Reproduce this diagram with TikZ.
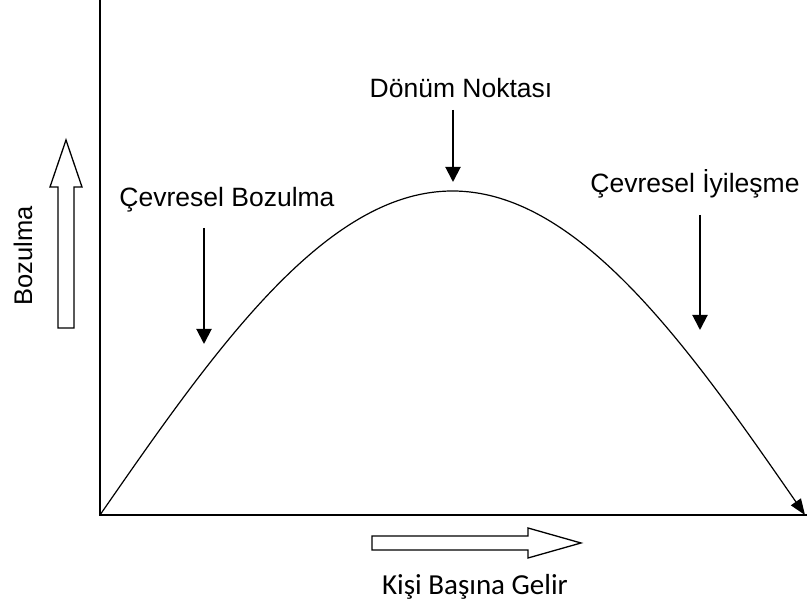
\documentclass[tikz,border=0pt]{standalone}
\usepackage{fontspec}
\setmainfont{Liberation Sans}
\newfontfamily\calibrifont{Carlito}
\usepackage{tikz}
\usetikzlibrary{arrows.meta, calc, positioning}

\tikzset{
	axisline/.style={line width=1.5pt},
	curveline/.style={line width=1.2pt, -{Triangle[length=16pt,width=12pt]}},
	pointer/.style={line width=2pt, -{Triangle[length=15pt,width=15pt]}},
	hollow/.style={line width=1.3pt, fill=white, line join=miter},
	lbl/.style={font=\fontsize{26.5}{30}\selectfont, inner sep=0pt, anchor=base},
}

\begin{document}
\begin{tikzpicture}[x=1pt, y=1pt]
	\useasboundingbox (0,0) rectangle (807,609);
	\pgfmathsetmacro{\ox}{100}
	\pgfmathsetmacro{\oy}{94}
	\pgfmathsetmacro{\cw}{705}
	\pgfmathsetmacro{\ch}{324}
	\coordinate (O) at (\ox,\oy);
	\coordinate (ytop) at (\ox,609);
	\coordinate (xend) at (807,\oy);
	\draw[axisline] (ytop) -- (O) -- (xend);

	% half sine wave, two bezier pieces
	\coordinate (peak) at (\ox+\cw/2,\oy+\ch);
	\coordinate (far) at (\ox+\cw,\oy);
	\draw[curveline] (O) .. controls (\ox+114.9,\oy+165.9) and (\ox+225.5,\oy+\ch) .. (peak)
		.. controls (\ox+479.5,\oy+\ch) and (\ox+590.1,\oy+165.9) .. (far);

	% hollow arrows along the axes
	\draw[hollow] (58,281) -- ++(0,141) -- ++(-8,0) -- ++(16,47) -- ++(16,-47) -- ++(-8,0) -- ++(0,-141) -- cycle;
	\draw[hollow] (372,59) -- ++(156,0) -- ++(0,-8) -- ++(53,15) -- ++(-53,15) -- ++(0,-8) -- ++(-156,0) -- cycle;
	\node[lbl, font=\fontsize{25.5}{30}\selectfont, rotate=90] (yLbl) at (32,353) {Bozulma};
	\node[lbl, font=\calibrifont\fontsize{29}{34}\selectfont] (xLbl) at (475,14) {Kişi Başına Gelir};

	% labels with pointers
	\node[lbl] (bozLbl) at (227,402) {Çevresel Bozulma};
	\coordinate (boz1) at (204,381);
	\coordinate (boz2) at (204,265);
	\draw[pointer] (boz1) -- (boz2);

	\node[lbl] (donLbl) at (461,511) {Dönüm Noktası};
	\coordinate (don1) at (453,499);
	\coordinate (don2) at (453,427);
	\draw[pointer] (don1) -- (don2);

	\node[lbl] (iyiLbl) at (695,416) {Çevresel İyileşme};
	\coordinate (iyi1) at (700,394);
	\coordinate (iyi2) at (700,279);
	\draw[pointer] (iyi1) -- (iyi2);
\end{tikzpicture}
\end{document}
